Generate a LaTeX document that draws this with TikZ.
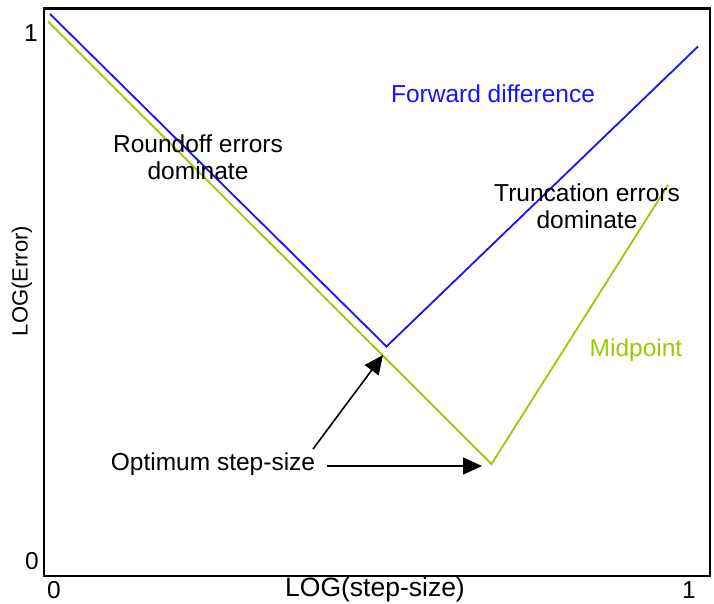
\documentclass[tikz,border=0pt]{standalone}
\usepackage{fontspec}
\setmainfont{Liberation Sans}
\usetikzlibrary{arrows.meta}
\definecolor{fdblue}{RGB}{20,20,255}
\definecolor{mpgreen}{RGB}{153,204,0}
\begin{document}
\begin{tikzpicture}[x=1pt,y=-1pt,
  lbl/.style={font=\fontsize{24.5}{27}\selectfont, inner sep=0pt, align=center},
  axlbl/.style={font=\fontsize{24.5}{27}\selectfont, inner sep=0pt},
  curve/.style={line width=1.8pt, line join=miter},
  pointer/.style={line width=1.6pt, -{Triangle[length=19pt,width=17pt]}}]
\useasboundingbox (0,0) rectangle (714,603);
% frame
\draw[line width=1.8pt] (44,8.5) rectangle (710,576);
\draw[line width=2.7pt] (43.1,8.5) -- (710.9,8.5);
% tick labels
\node[axlbl] (y1) at (31,33) {1};
\node[axlbl] (y0) at (32,561) {0};
\node[axlbl] (x0) at (54,590) {0};
\node[axlbl] (x1) at (689,590) {1};
\node[axlbl, font=\fontsize{26.5}{28}\selectfont] (xl) at (375,590) {LOG(step-size)};
\node[axlbl, rotate=90, font=\fontsize{22}{26}\selectfont] (yl) at (22,281) {LOG(Error)};
% curves
\coordinate (b0) at (50,14);
\coordinate (bm) at (386.5,346.5);
\coordinate (b1) at (698,46.5);
\coordinate (g0) at (48,21.5);
\coordinate (gm) at (491.5,464);
\coordinate (g1) at (668,185);
\draw[curve, mpgreen] (g0) -- (gm) -- (g1);
\draw[curve, fdblue] (b0) -- (bm) -- (b1);
% labels
\node[lbl, text=fdblue, anchor=base] (fd) at (493,102) {Forward difference};
\node[lbl] (ro) at (198,157) {Roundoff errors\\dominate};
\node[lbl] (tr) at (587,206) {Truncation errors\\dominate};
\node[lbl, text=mpgreen] (mp) at (636,350) {Midpoint};
\node[lbl, anchor=base] (opt) at (213,470) {Optimum step-size};
% arrows
\coordinate (a1s) at (313,449);
\coordinate (a1e) at (383,355);
\coordinate (a2s) at (327,466);
\coordinate (a2e) at (482,466);
\draw[pointer] (a1s) -- (a1e);
\draw[pointer] (a2s) -- (a2e);
\end{tikzpicture}
\end{document}
